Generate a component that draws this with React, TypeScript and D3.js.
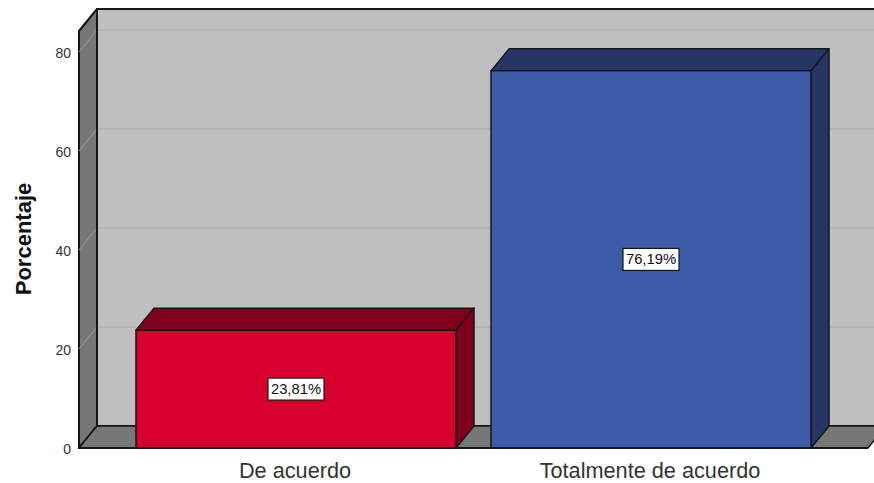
import * as d3 from 'd3';

const categories = ['De acuerdo', 'Totalmente de acuerdo'];
const percents = [23.81, 76.19];
const valueLabels = ['23,81%', '76,19%'];
const yTicks = [0, 20, 40, 60, 80];
const barColors = ['#d5002c', '#3e5ba8'];
const barDarkColors = ['#80001c', '#253566'];

const WIDTH = 874;
const HEIGHT = 483;
const DEPTH_X = 18;
const DEPTH_Y = -22;
const FRONT_LEFT = 79;
const FRONT_RIGHT = 868;
const FONT = '"Liberation Sans", Arial, sans-serif';
const LINE = '#161616';

const yScale = d3.scaleLinear().domain([0, 80]).range([448, 52]);
const xScale = d3.scaleBand<string>().domain(categories).range([136, 811]).paddingInner(35 / 355).paddingOuter(0);

const poly = (pts: [number, number][]) => d3.line()(pts) + 'Z';

export default function App() {
  const y0 = yScale(0);
  const top = 31;
  const bw = xScale.bandwidth();

  return (
    <svg width={WIDTH} height={HEIGHT} style={{ position: 'absolute', left: 0, top: 0, background: '#fff' }} fontFamily={FONT}>
      {/* back wall */}
      <rect x={FRONT_LEFT + DEPTH_X} y={top + DEPTH_Y} width={WIDTH} height={y0 - top} fill="#bfbfbf" stroke={LINE} strokeWidth={2} />
      {/* left wall */}
      <path
        d={poly([[FRONT_LEFT, top], [FRONT_LEFT + DEPTH_X, top + DEPTH_Y], [FRONT_LEFT + DEPTH_X, y0 + DEPTH_Y], [FRONT_LEFT, y0]])}
        fill="#777777" stroke={LINE} strokeWidth={2} strokeLinejoin="round"
      />
      {/* floor */}
      <path
        d={poly([[FRONT_LEFT, y0], [FRONT_LEFT + DEPTH_X, y0 + DEPTH_Y], [FRONT_RIGHT + DEPTH_X, y0 + DEPTH_Y], [FRONT_RIGHT, y0]])}
        fill="#777777" stroke={LINE} strokeWidth={1.5}
      />
      {/* gridlines */}
      {yTicks.filter(t => t > 0).map(t => (
        <g key={t}>
          <line x1={FRONT_LEFT + DEPTH_X} x2={WIDTH} y1={yScale(t) + DEPTH_Y} y2={yScale(t) + DEPTH_Y} stroke="#b2b2b2" strokeWidth={1.5} />
          <line x1={FRONT_LEFT} x2={FRONT_LEFT + DEPTH_X} y1={yScale(t)} y2={yScale(t) + DEPTH_Y} stroke="#9a9a9a" strokeWidth={1} />
        </g>
      ))}
      <line x1={FRONT_LEFT + DEPTH_X} x2={FRONT_LEFT + DEPTH_X} y1={top + DEPTH_Y} y2={y0 + DEPTH_Y} stroke={LINE} strokeWidth={2} />
      {/* bars */}
      {categories.map((c, i) => {
        const x = xScale(c) as number;
        const y = yScale(percents[i]);
        const r = x + bw;
        return (
          <g key={c} stroke={LINE} strokeWidth={1.5} strokeLinejoin="round">
            <path d={poly([[x, y], [x + DEPTH_X, y + DEPTH_Y], [r + DEPTH_X, y + DEPTH_Y], [r, y]])} fill={barDarkColors[i]} />
            <path d={poly([[r, y], [r + DEPTH_X, y + DEPTH_Y], [r + DEPTH_X, y0 + DEPTH_Y], [r, y0]])} fill={barDarkColors[i]} />
            <rect x={x} y={y} width={bw} height={y0 - y} fill={barColors[i]} />
          </g>
        );
      })}
      {/* front baseline */}
      <line x1={FRONT_LEFT} x2={FRONT_RIGHT} y1={y0} y2={y0} stroke={LINE} strokeWidth={2} />
      {/* value labels */}
      {categories.map((c, i) => {
        const cx = (xScale(c) as number) + bw / 2;
        const cy = yScale(percents[i] / 2);
        return (
          <g key={c}>
            <rect x={cx - 28} y={cy - 11} width={56} height={22} fill="#fff" stroke={LINE} strokeWidth={1.2} />
            <text x={cx} y={cy + 5} textAnchor="middle" fontSize={14.8} fill="#111">{valueLabels[i]}</text>
          </g>
        );
      })}
      {/* y axis */}
      {yTicks.map(t => (
        <text key={t} x={71} y={yScale(t) + 6} textAnchor="end" fontSize={14} fill="#333">{t}</text>
      ))}
      <text transform="translate(31,239) rotate(-90)" textAnchor="middle" fontSize={22} fontWeight={700} fill="#111">Porcentaje</text>
      {/* x axis */}
      {categories.map(c => (
        <text key={c} x={(xScale(c) as number) + bw / 2 - 1} y={478} textAnchor="middle" fontSize={21.7} fill="#333">{c}</text>
      ))}
    </svg>
  );
}
